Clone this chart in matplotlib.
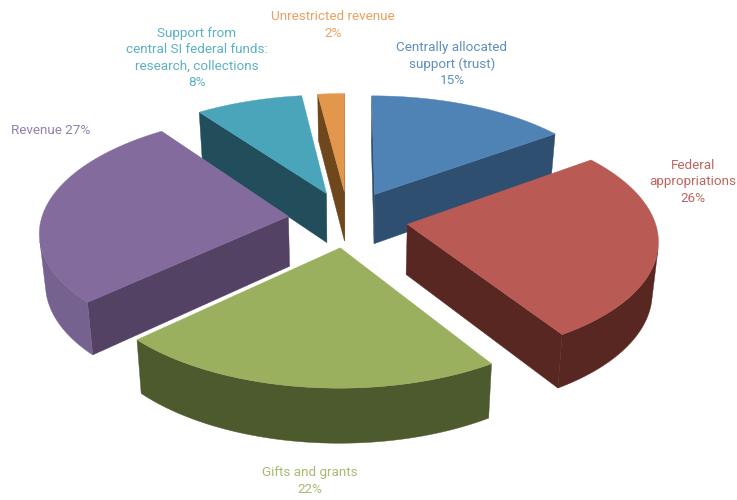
import numpy as np
import matplotlib
matplotlib.use('Agg')
import matplotlib.pyplot as plt
from matplotlib.patches import Polygon

# Slice values, clockwise from the top
labels = ['Centrally allocated\nsupport (trust)\n15%',
          'Federal\nappropriations\n26%',
          'Gifts and grants\n22%',
          'Revenue 27%',
          'Support from\ncentral SI federal funds:\nresearch, collections\n8%',
          'Unrestricted revenue\n2%']
shares = [15, 26, 22, 27, 8, 2]

top_colors = ['#5083B5', '#B95B54', '#9BB05F', '#836B9D', '#4BA5BA', '#E2974D']
side_colors = ['#2F4F70', '#582722', '#4D5A2E', '#534264', '#224E5B', '#6F471D']
rim_colors = ['#2F4F70', '#582722', '#4D5A2E', '#75628F', '#224E5B', '#6F471D']
text_colors = ['#5F8FBF', '#C0645E', '#A6BB6E', '#9180AC', '#5DB0C4', '#E8A25F']

# Fake 3D projection of the pie
cx, cy = 348, 219
rx, ry = 247, 116
persp = 0.12
depth = 50
explode = 0.243
draw_order = [5, 4, 0, 3, 1, 2]

label_pos = [(452, 64, 'center'), (693, 182, 'center'), (310, 481, 'center'),
             (11, 131, 'left'), (197, 58, 'center'), (333, 25, 'center')]


def project(u, v, z=0.0):
    w = 1 + persp * np.asarray(v)
    x = cx + rx * np.asarray(u) / w * (1 - 0.02 * z)
    y = cy - ry * np.asarray(v) / w + z * depth / w ** 0.6
    return np.column_stack([np.atleast_1d(x), np.atleast_1d(y)])


def facing(pts):
    # shoelace sign, y axis points down on screen
    x, y = pts[:, 0], pts[:, 1]
    return np.sum(x * np.roll(y, -1) - np.roll(x, -1) * y)


def extrude(top, bottom, idx, col, z):
    # one solid face between the top and bottom outlines, so no seams show
    pts = np.vstack([top[idx], bottom[idx][::-1]])
    ax.add_patch(Polygon(pts, closed=True, fc=col, ec=col, lw=0.3, zorder=z))


fig = plt.figure(figsize=(7.37, 5), dpi=100)
ax = fig.add_axes([0, 0, 1, 1])
ax.set_xlim(0, 737)
ax.set_ylim(500, 0)
ax.axis('off')

edges = np.cumsum([0] + shares) / sum(shares) * 2 * np.pi

for i in draw_order:
    t0, t1 = edges[i], edges[i + 1]
    mid = (t0 + t1) / 2
    ou, ov = explode * np.sin(mid), explode * np.cos(mid)
    t = np.linspace(t0, t1, 120)
    u = np.concatenate([[ou], ou + np.sin(t)])
    v = np.concatenate([[ov], ov + np.cos(t)])

    top = project(u, v, 0)
    bottom = project(u, v, 1)
    n = len(u)
    z = 1 + draw_order.index(i)

    # the two cut faces
    for idx in ([0, 1], [n - 1, 0]):
        quad = np.array([top[idx[0]], top[idx[1]], bottom[idx[1]], bottom[idx[0]]])
        if facing(quad) < 0:
            extrude(top, bottom, idx, side_colors[i], z)

    # outer rim, only the part turned towards the viewer
    run = []
    for a in range(1, n - 1):
        quad = np.array([top[a], top[a + 1], bottom[a + 1], bottom[a]])
        if facing(quad) < 0:
            run += [a, a + 1]
        elif run:
            extrude(top, bottom, sorted(set(run)), rim_colors[i], z + 0.1)
            run = []
    if run:
        extrude(top, bottom, sorted(set(run)), rim_colors[i], z + 0.1)

    ax.add_patch(Polygon(top, closed=True, fc=top_colors[i], ec=top_colors[i], lw=0.3, zorder=z + 0.5))

for i, (x, y, ha) in enumerate(label_pos):
    ax.text(x, y, labels[i], color=text_colors[i], ha=ha, va='center', multialignment='center',
            fontsize=9.7, linespacing=1.36, family=['Roboto', 'DejaVu Sans'])

fig.savefig('out.png', dpi=100)
